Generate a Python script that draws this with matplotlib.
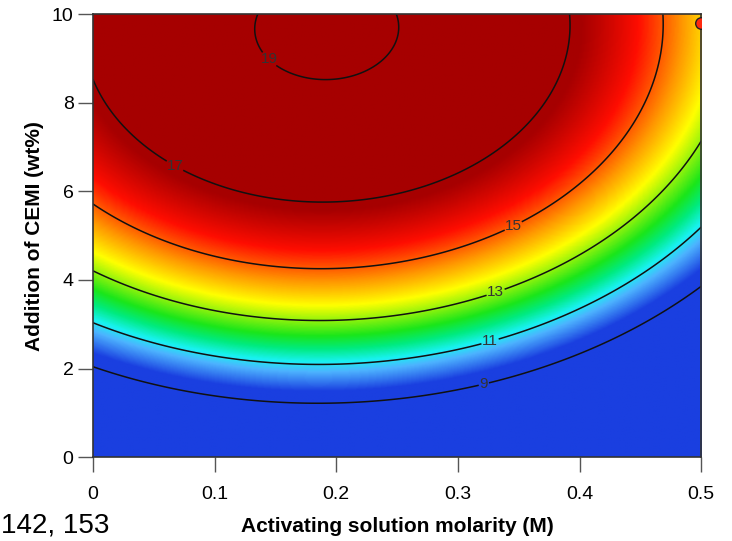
import numpy as np
import matplotlib.pyplot as plt
from matplotlib.colors import LinearSegmentedColormap, Normalize

plt.rcParams['font.family'] = ['Liberation Sans', 'DejaVu Sans']

# contour crossings: (molarity, CEMI wt%) for each level
levels = [9, 11, 13, 15, 17, 19]
pts_x = {
    9:  [0.0, 0.19, 0.224, 0.322, 0.40, 0.50],
    11: [0.0, 0.19, 0.224, 0.323, 0.40, 0.50],
    13: [0.0, 0.19, 0.326, 0.50],
    15: [0.0, 0.19, 0.224, 0.344, 0.464],
    17: [0.0, 0.19, 0.224, 0.361, 0.389],
    19: [0.129, 0.19, 0.254],
}
pts_y = {
    9:  [2.08, 1.17, 1.17, 1.74, 2.48, 3.72],
    11: [3.05, 2.03, 2.12, 2.60, 3.32, 5.12],
    13: [4.22, 3.05, 3.88, 7.04],
    15: [5.76, 4.20, 4.29, 5.35, 10.0],
    17: [8.58, 5.73, 5.80, 7.31, 10.0],
    19: [10.0, 8.40, 10.0],
}

# where the contour numbers sit
label_pos = [(0.149, 9.1), (0.074, 6.9), (0.344, 5.3), (0.329, 3.88), (0.325, 2.75), (0.32, 1.8)]

# design point at the top right corner
design_x = [0.5]
design_y = [9.8]

# colour stops (response value -> colour)
cmap_vals = [9.6, 10.6, 11.1, 11.7, 12.3, 13.6, 14.5, 15.6, 16.8]
cmap_cols = ['#1a3fe0', '#4db3ff', '#19f2f2', '#00eb80', '#1ae61a',
             '#ffff00', '#ff9900', '#ff0d00', '#a60000']

# fit the quadratic response surface (RSM model) to the read crossings
X, Y, Z = [], [], []
for lv in levels:
    X += pts_x[lv]
    Y += pts_y[lv]
    Z += [lv] * len(pts_x[lv])
X, Y, Z = np.array(X), np.array(Y), np.array(Z, dtype=float)
A = np.column_stack([np.ones_like(X), X, Y, X**2, Y**2, X * Y])
coef, *_ = np.linalg.lstsq(A, Z, rcond=None)

gx = np.linspace(0, 0.5, 400)
gy = np.linspace(0, 10, 400)
GX, GY = np.meshgrid(gx, gy)
GZ = coef[0] + coef[1]*GX + coef[2]*GY + coef[3]*GX**2 + coef[4]*GY**2 + coef[5]*GX*GY

vmin, vmax = cmap_vals[0], cmap_vals[-1]
stops = [(v - vmin) / (vmax - vmin) for v in cmap_vals]
cmap = LinearSegmentedColormap.from_list('rsm', list(zip(stops, cmap_cols)))

fig = plt.figure(figsize=(7.32, 5.41), dpi=100)
ax = fig.add_axes([0.127, 0.155, 0.831, 0.819])

ax.imshow(GZ, extent=[0, 0.5, 0, 10], origin='lower', aspect='auto',
          cmap=cmap, norm=Normalize(vmin, vmax), interpolation='bilinear')
cs = ax.contour(GX, GY, GZ, levels=levels, colors='#111111', linewidths=1.1)
lbls = ax.clabel(cs, fmt='%d', fontsize=11, inline=True, inline_spacing=1,
                 manual=label_pos, colors='#333333')
for t in lbls:
    t.set_rotation(0)
ax.scatter(design_x, design_y, s=70, c='#ff2a10', edgecolors='#222222',
           linewidths=1, zorder=5)

ax.set_xlim(0, 0.5)
ax.set_ylim(0, 10)
ax.set_xticks([0, 0.1, 0.2, 0.3, 0.4, 0.5])
ax.set_xticklabels(['0', '0.1', '0.2', '0.3', '0.4', '0.5'])
ax.set_yticks([0, 2, 4, 6, 8, 10])
ax.tick_params(direction='out', length=10.5, width=1, color='#555555', labelsize=14)
ax.tick_params(axis='x', pad=10)
ax.tick_params(axis='y', pad=3.5)
for s in ax.spines.values():
    s.set_color('#333333')
    s.set_linewidth(1.2)

ax.set_xlabel('Activating solution molarity (M)', fontsize=15, fontweight='bold')
ax.set_ylabel('Addition of CEMI (wt%)', fontsize=15, fontweight='bold')
ax.xaxis.set_label_coords(0.5, -0.135)
ax.yaxis.set_label_coords(-0.08, 0.5)

fig.text(0.002, 0.004, '142, 153', fontsize=20, va='bottom', ha='left')

fig.savefig('out.png', dpi=100)
